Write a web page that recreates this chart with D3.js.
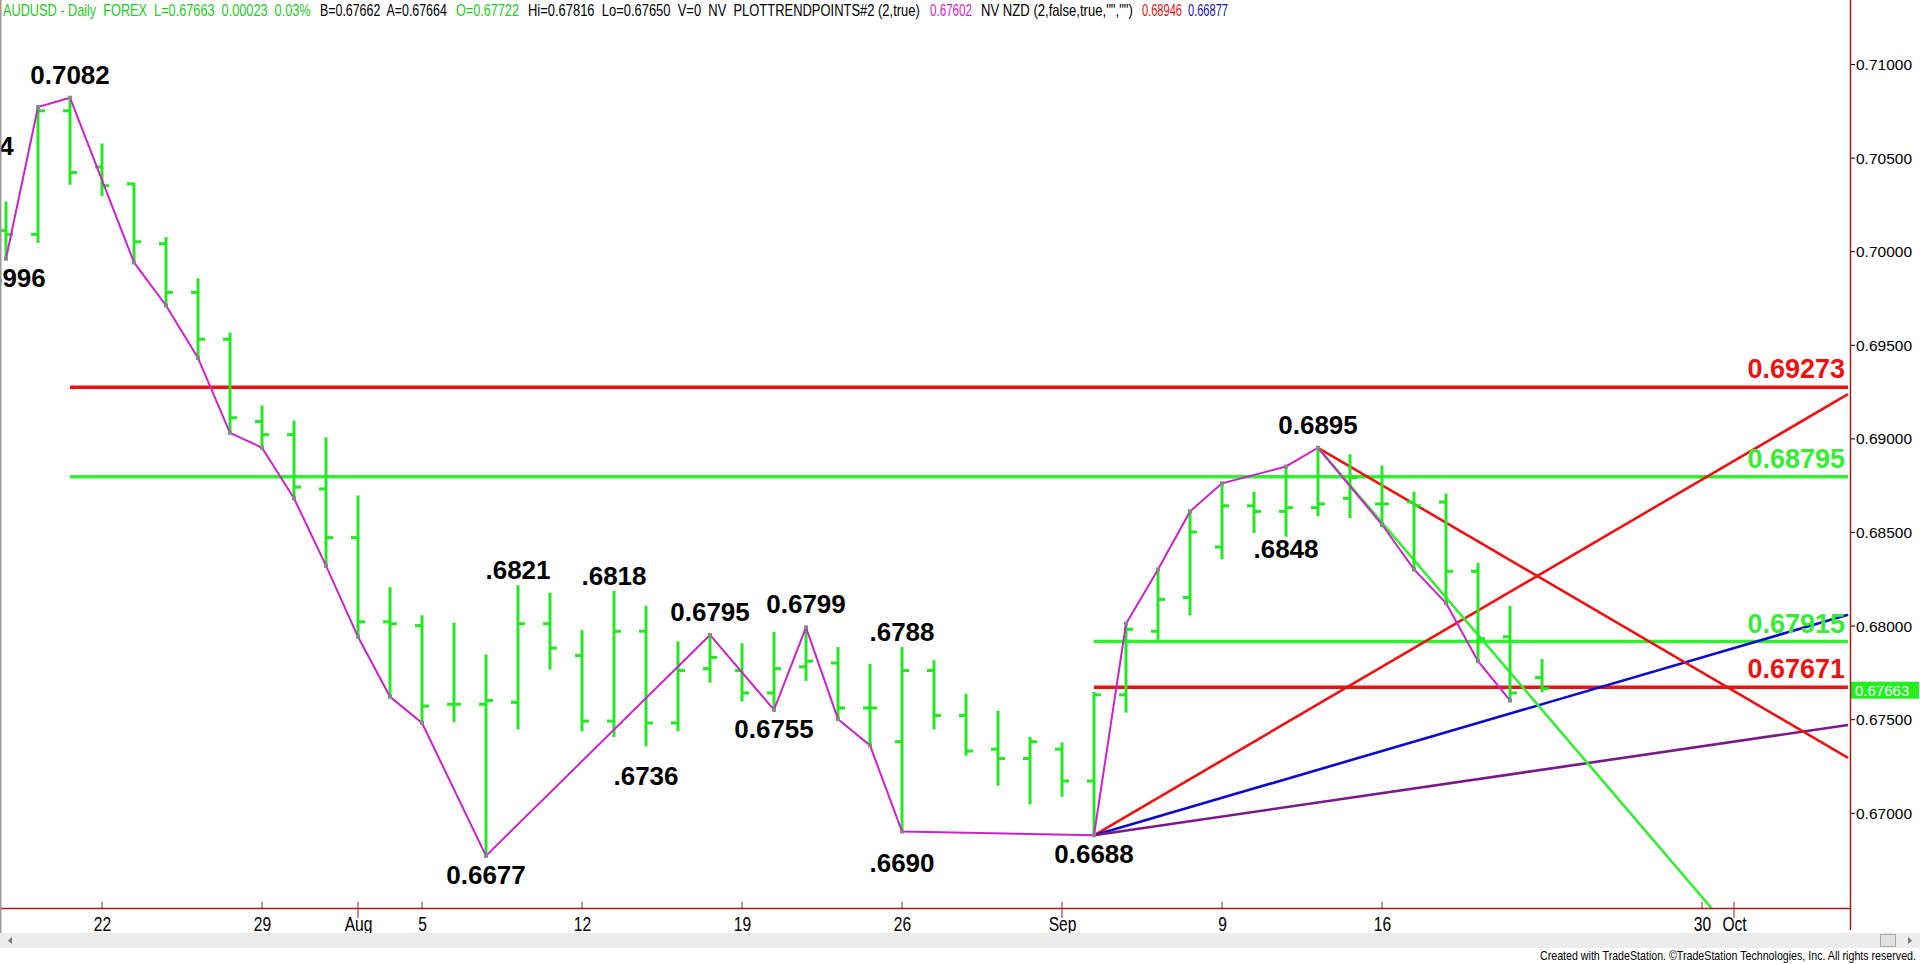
<!DOCTYPE html>
<html><head><meta charset="utf-8">
<script src="https://cdn.jsdelivr.net/npm/d3@7/dist/d3.min.js"></script>
<style>
html,body{margin:0;padding:0;background:#fff;overflow:hidden}
svg{display:block}
</style></head><body>
<svg id="chart" width="1920" height="964"></svg>
<script>
// ---------------- DATA ----------------
const barDates = ["2019-07-17","2019-07-18","2019-07-19","2019-07-22","2019-07-23","2019-07-24","2019-07-25","2019-07-26",
 "2019-07-29","2019-07-30","2019-07-31","2019-08-01","2019-08-02","2019-08-05","2019-08-06","2019-08-07","2019-08-08","2019-08-09",
 "2019-08-12","2019-08-13","2019-08-14","2019-08-15","2019-08-16","2019-08-19","2019-08-20","2019-08-21","2019-08-22","2019-08-23",
 "2019-08-26","2019-08-27","2019-08-28","2019-08-29","2019-08-30","2019-09-02","2019-09-03","2019-09-04","2019-09-05","2019-09-06",
 "2019-09-09","2019-09-10","2019-09-11","2019-09-12","2019-09-13","2019-09-16","2019-09-17","2019-09-18","2019-09-19","2019-09-20","2019-09-23"];
const opens  = [0.7011,0.7009,0.7075,0.7045,0.7036,0.7004,0.6978,0.6953,0.6909,0.6902,0.6873,0.6847,0.6802,0.6800,0.6758,0.6758,0.6759,0.6801,
 0.6784,0.6749,0.6797,0.6748,0.6777,0.6776,0.6764,0.6778,0.6780,0.6756,0.6738,0.6776,0.6752,0.6734,0.6729,0.6734,0.6717,0.6763,0.6797,0.6815,
 0.6842,0.6864,0.6861,0.6863,0.6868,0.6865,0.6866,0.6866,0.6829,0.6794,0.67722];
const highs  = [0.7026,0.7077,0.7082,0.7057,0.7036,0.7007,0.6985,0.6956,0.6917,0.6909,0.6900,0.6869,0.6820,0.6805,0.6801,0.6784,0.6821,0.6817,
 0.6797,0.6818,0.6810,0.6791,0.6795,0.6790,0.6796,0.6799,0.6788,0.6779,0.6788,0.6781,0.6763,0.6754,0.6740,0.6737,0.6764,0.6801,0.6830,0.6861,
 0.6876,0.6871,0.6885,0.6895,0.6891,0.6885,0.6871,0.6870,0.6833,0.6810,0.67816];
const lows   = [0.6996,0.7005,0.7036,0.7030,0.6994,0.6971,0.6943,0.6903,0.6895,0.6868,0.6832,0.6794,0.6762,0.6748,0.6749,0.6677,0.6745,0.6777,
 0.6744,0.6741,0.6736,0.6744,0.6770,0.6760,0.6755,0.6771,0.6750,0.6736,0.6690,0.6745,0.6731,0.6715,0.6705,0.6709,0.6688,0.6754,0.6793,0.6806,
 0.6836,0.6850,0.6848,0.6859,0.6858,0.6853,0.6830,0.6812,0.6781,0.6760,0.67650];
const closes = [0.7009,0.7075,0.7042,0.7035,0.7005,0.6978,0.6953,0.6911,0.6902,0.6874,0.6847,0.6802,0.6801,0.6757,0.6758,0.6760,0.6801,0.6788,
 0.6749,0.6797,0.6748,0.6776,0.6783,0.6764,0.6777,0.6781,0.6756,0.6756,0.6776,0.6752,0.6733,0.6729,0.6738,0.6717,0.6763,0.6798,0.6814,0.6850,
 0.6864,0.6861,0.6863,0.6865,0.6879,0.6865,0.6864,0.6829,0.6793,0.6764,0.67663];

// PLOTTRENDPOINTS zigzag
const zigDates = ["2019-07-17","2019-07-18","2019-07-19","2019-07-23","2019-07-24","2019-07-25","2019-07-26","2019-07-29","2019-07-30",
 "2019-07-31","2019-08-01","2019-08-02","2019-08-05","2019-08-07","2019-08-16","2019-08-20","2019-08-21","2019-08-22","2019-08-23",
 "2019-08-26","2019-09-03","2019-09-04","2019-09-05","2019-09-06","2019-09-09","2019-09-11","2019-09-12","2019-09-16","2019-09-17",
 "2019-09-18","2019-09-19","2019-09-20"];
const zigValues = [0.6996,0.7077,0.7082,0.6994,0.6971,0.6943,0.6903,0.6895,0.6868,0.6832,0.6794,0.6762,0.6748,0.6677,0.6795,0.6755,0.6799,
 0.6750,0.6736,0.6690,0.6688,0.6801,0.6830,0.6861,0.6876,0.6885,0.6895,0.6854,0.6830,0.6812,0.6781,0.6760];

// swing labels
const labelTexts  = ["0.7044","0.7082","0.6996",".6821",".6818","0.6795","0.6799","0.6677",".6736","0.6755",".6788",".6690","0.6688","0.6895",".6848"];
const labelDates  = ["2019-07-16","2019-07-19","2019-07-17","2019-08-08","2019-08-13","2019-08-16","2019-08-21","2019-08-07","2019-08-14",
 "2019-08-20","2019-08-26","2019-08-26","2019-09-03","2019-09-12","2019-09-11"];
const labelValues = [0.7044,0.7082,0.6996,0.6821,0.6818,0.6795,0.6799,0.6677,0.6736,0.6755,0.6788,0.6690,0.6688,0.6895,0.6848];
const labelSides  = ["above","above","below","above","above","above","above","below","below","below","above","below","below","above","below"];

// retracement levels
const levelValues = [0.69273, 0.68795, 0.67915, 0.67671];
const levelStarts = ["2019-07-19","2019-07-19","2019-09-03","2019-09-03"];
const levelKinds  = ["r","g","g","r"];

// Gann angles
const gannLowDate = "2019-09-03", gannLowValue = 0.6688;
const gannLowRates = [0.0010, 0.0005, 0.00025];
const gannHighDate = "2019-09-12", gannHighValue = 0.6895;
const gannHighRates = [-0.0010, -0.0020];

// axes
const yTicks = [0.670,0.675,0.680,0.685,0.690,0.695,0.700,0.705,0.710];
const xTickDates  = ["2019-07-22","2019-07-29","2019-08-01","2019-08-05","2019-08-12","2019-08-19","2019-08-26","2019-09-02","2019-09-09","2019-09-16","2019-09-30","2019-10-01"];
const xTickLabels = ["22","29","Aug","5","12","19","26","Sep","9","16","30","Oct"];
const lastPrice = 0.67663;

// ---------------- LAYOUT ----------------
const tradingDays = [];
for (let d = new Date(Date.UTC(2019,6,16)); d <= new Date(Date.UTC(2019,9,4)); d.setUTCDate(d.getUTCDate()+1)) {
  const wd = d.getUTCDay(); if (wd > 0 && wd < 6) tradingDays.push(d.toISOString().slice(0,10));
}
const di = new Map(tradingDays.map((d,i)=>[d,i]));
const plotRight = 1850, plotBottom = 908;
const x = d3.scaleLinear().domain([di.get("2019-07-22"), di.get("2019-09-30")]).range([102, 1702]);
const y = d3.scaleLinear().domain([0.670, 0.710]).range([812.8, 64]);
const X = d => x(di.get(d));

const C = {bar:"#22ea22", red:"#ee1111", green:"#33ee33", blue:"#0a0ad0", purple:"#7a1a8a", zig:"#cc22cc", axis:"#a01c1c"};
const FONT = "'Liberation Sans', Arial, sans-serif";
const labelNudge = {".6848": -18};

const svg = d3.select("#chart");
svg.append("rect").attr("width",1920).attr("height",964).attr("fill","#fff");
svg.append("defs").append("clipPath").attr("id","plot").append("rect")
  .attr("x",0).attr("y",0).attr("width",plotRight-1).attr("height",plotBottom);
const plot = svg.append("g").attr("clip-path","url(#plot)");

// levels
levelValues.forEach((v,i)=>{
  plot.append("line").attr("x1",X(levelStarts[i])).attr("x2",plotRight-2)
    .attr("y1",y(v)).attr("y2",y(v))
    .attr("stroke", levelKinds[i]==="r"?C.red:C.green).attr("stroke-width",3.5);
});

// Gann lines
const endIdx = x.invert(plotRight-2);
const gannLowColors = [C.red, C.blue, C.purple];
gannLowRates.forEach((r,i)=>{
  const i0 = di.get(gannLowDate);
  plot.append("line").attr("x1",x(i0)).attr("y1",y(gannLowValue))
    .attr("x2",x(endIdx)).attr("y2",y(gannLowValue + r*(endIdx-i0)))
    .attr("stroke",gannLowColors[i]).attr("stroke-width",2.6);
});
const gannHighColors = [C.red, C.green];
gannHighRates.forEach((r,i)=>{
  const i0 = di.get(gannHighDate);
  plot.append("line").attr("x1",x(i0)).attr("y1",y(gannHighValue))
    .attr("x2",x(endIdx)).attr("y2",y(gannHighValue + r*(endIdx-i0)))
    .attr("stroke",gannHighColors[i]).attr("stroke-width",2.6);
});

// OHLC bars
const bars = plot.append("g").attr("stroke",C.bar).attr("stroke-width",3);
barDates.forEach((d,i)=>{
  const cx = X(d);
  bars.append("line").attr("x1",cx).attr("x2",cx).attr("y1",y(highs[i])-1).attr("y2",y(lows[i])+1);
  bars.append("line").attr("x1",cx-7).attr("x2",cx).attr("y1",y(opens[i])).attr("y2",y(opens[i]));
  bars.append("line").attr("x1",cx).attr("x2",cx+7).attr("y1",y(closes[i])).attr("y2",y(closes[i]));
});

// zigzag
const zig = zigDates.map((d,i)=>[X(d), y(zigValues[i])]);
plot.append("path").attr("d", d3.line()(zig)).attr("fill","none").attr("stroke",C.zig).attr("stroke-width",2);
plot.selectAll(".zp").data(zig).enter().append("rect").attr("x",d=>d[0]-2).attr("y",d=>d[1]-2)
  .attr("width",4).attr("height",4).attr("fill","#888");

// swing labels
labelTexts.forEach((t,i)=>{
  const short = t.startsWith(".");
  let yy = labelSides[i]==="above" ? y(labelValues[i]) - (short?7:14) : y(labelValues[i]) + (short?40:28);
  yy += (labelNudge[t] || 0);
  plot.append("text").attr("x",X(labelDates[i])).attr("y",yy).attr("text-anchor","middle")
    .attr("font-family",FONT).attr("font-weight","bold").attr("font-size",26).attr("fill","#000").text(t);
});

// level labels
levelValues.forEach((v,i)=>{
  svg.append("text").attr("x",1845).attr("y",y(v)-9).attr("text-anchor","end")
    .attr("font-family",FONT).attr("font-weight","bold").attr("font-size",27)
    .attr("fill", levelKinds[i]==="r"?C.red:C.green).text(d3.format(".5f")(v));
});

// ---------------- AXES ----------------
const yAxis = d3.axisRight(y).tickValues(yTicks).tickFormat(d3.format(".5f")).tickSize(5).tickPadding(1);
const gy = svg.append("g").attr("transform",`translate(${plotRight},0)`).call(yAxis);
gy.select(".domain").remove();
gy.selectAll("text").attr("font-family",FONT).attr("font-size",15.5).attr("fill","#000").attr("dy","0.35em");
gy.selectAll("line").attr("stroke","#000");

// price marker
const py = y(lastPrice);
svg.append("rect").attr("x",plotRight+1).attr("y",py-7).attr("width",68).attr("height",17).attr("fill","#22ee22");
svg.append("text").attr("x",plotRight+5).attr("y",py+7).attr("font-family",FONT).attr("font-size",15)
  .attr("fill","#fff").text(d3.format(".5f")(lastPrice));

const xAxis = d3.axisBottom(x).tickValues(xTickDates.map(d=>di.get(d))).tickFormat((d,i)=>xTickLabels[i]).tickSize(0).tickPadding(9);
const gx = svg.append("g").attr("transform",`translate(0,${plotBottom})`).call(xAxis);
gx.select(".domain").remove();
gx.selectAll("text").attr("font-family",FONT).attr("font-size",19.5).attr("fill","#000")
  .attr("transform","scale(0.8,1)").attr("x",0);
// ticks
xTickDates.forEach((d,i)=>{
  const month = isNaN(+xTickLabels[i]);
  svg.append("line").attr("x1",X(d)).attr("x2",X(d)).attr("y1",plotBottom-6).attr("y2",plotBottom+(month?10:0))
    .attr("stroke",C.axis).attr("stroke-width",1);
});
// axis lines
svg.append("line").attr("x1",0).attr("x2",plotRight).attr("y1",plotBottom+0.5).attr("y2",plotBottom+0.5).attr("stroke",C.axis).attr("stroke-width",1.5);
svg.append("line").attr("x1",plotRight+0.5).attr("x2",plotRight+0.5).attr("y1",0).attr("y2",930).attr("stroke",C.axis).attr("stroke-width",1.5);
svg.append("line").attr("x1",0.5).attr("x2",0.5).attr("y1",0).attr("y2",948).attr("stroke","#999").attr("stroke-width",2);

// scrollbar
svg.append("rect").attr("x",0).attr("y",933).attr("width",1920).attr("height",15).attr("fill","#ececec");
svg.append("rect").attr("x",1880.5).attr("y",934.5).attr("width",15).attr("height",12).attr("fill","#e2e2e2").attr("stroke","#a8a8a8");
svg.append("path").attr("d","M12,937 L8,940.5 L12,944 Z").attr("fill","#777");
svg.append("path").attr("d","M1908,937 L1912,940.5 L1908,944 Z").attr("fill","#777");

// fit a text to a target width by horizontal scaling
function fitText(sel, x0, y0, target) {
  const len = sel.node().getComputedTextLength();
  sel.attr("x",0).attr("y",0).attr("transform",`translate(${x0},${y0}) scale(${target/len},1)`);
}

// footer
const foot = svg.append("text").attr("text-anchor","start").attr("font-family",FONT).attr("font-size",12.5).attr("fill","#000")
  .text("Created with TradeStation. \u00A9TradeStation Technologies, Inc. All rights reserved.");
fitText(foot, 1540, 960, 376);

// header
const header = [
  ["AUDUSD - Daily  FOREX  L=0.67663  0.00023  0.03%", "#22cc22", 3, 308],
  ["B=0.67662  A=0.67664", "#000", 320, 127],
  ["O=0.67722", "#22cc22", 456, 63],
  ["Hi=0.67816  Lo=0.67650  V=0  NV  PLOTTRENDPOINTS#2 (2,true)", "#000", 528, 392],
  ["0.67602", "#cc22cc", 930, 42],
  ["NV NZD (2,false,true,\"\",\"\")", "#000", 981, 152],
  ["0.68946", "#dd1111", 1142, 40],
  ["0.66877", "#1111aa", 1188, 40]
];
header.forEach(h=>{
  const t = svg.append("text").attr("font-family",FONT).attr("font-size",16)
    .style("white-space","pre").attr("fill",h[1]).text(h[0]);
  fitText(t, h[2], 16, h[3]);
});
</script>
</body></html>
